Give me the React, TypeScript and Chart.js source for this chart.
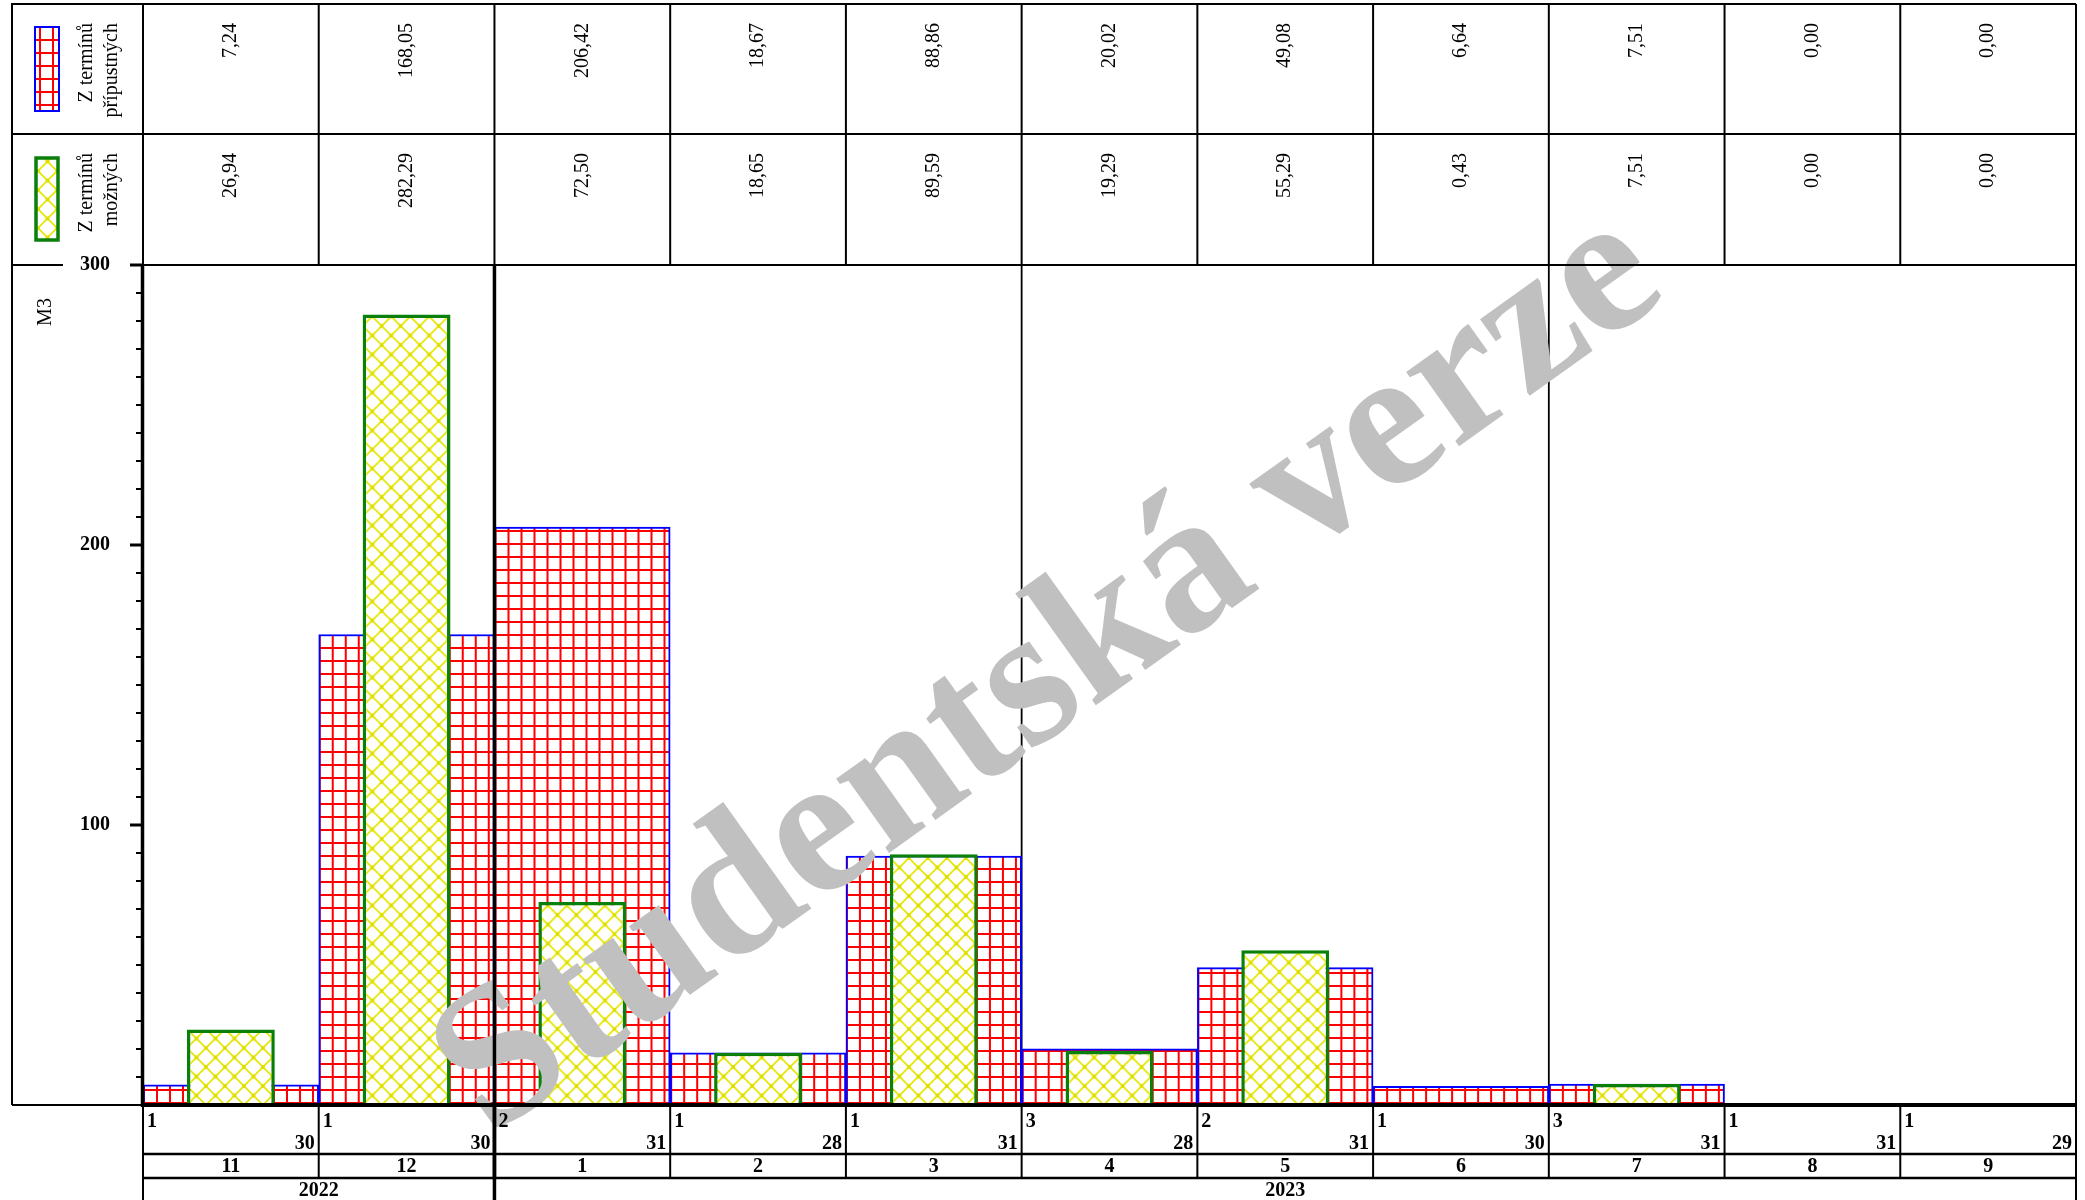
import React, { useEffect, useRef } from 'react';
import { Chart, registerables } from 'chart.js';

Chart.register(...registerables);

// ---------- data ----------
const monthLabels = ['11', '12', '1', '2', '3', '4', '5', '6', '7', '8', '9'];
const firstDays = [1, 1, 2, 1, 1, 3, 2, 1, 3, 1, 1];
const lastDays = [30, 30, 31, 28, 31, 28, 31, 30, 31, 31, 29];
const pripustnych = [7.24, 168.05, 206.42, 18.67, 88.86, 20.02, 49.08, 6.64, 7.51, 0.0, 0.0];
const moznych = [26.94, 282.29, 72.5, 18.65, 89.59, 19.29, 55.29, 0.43, 7.51, 0.0, 0.0];
const yearLabels = ['2022', '2023'];
const yearMonthCounts = [2, 9];
const seriesLabels = [
  ['Z termínů', 'přípustných'],
  ['Z termínů', 'možných'],
];
const yMajorTicks = [100, 200, 300];
const yMinorStep = 10;
const yMax = 300;
const axisTitle = 'M3';
const quarterLineMonths = [5, 8];
const yearBoundaryMonth = 2;
const watermark = 'Studentská verze';

const FONT = '"Liberation Serif", "Times New Roman", Times, serif';

function gridTile(): HTMLCanvasElement {
  const s = 13;
  const c = document.createElement('canvas');
  c.width = s;
  c.height = s;
  const g = c.getContext('2d')!;
  g.fillStyle = '#ffffff';
  g.fillRect(0, 0, s, s);
  g.fillStyle = '#ff0000';
  g.fillRect(0, 0, 2, s);
  g.fillRect(0, 0, s, 2);
  return c;
}

function crossTile(): HTMLCanvasElement {
  const s = 19;
  const c = document.createElement('canvas');
  c.width = s;
  c.height = s;
  const g = c.getContext('2d')!;
  g.fillStyle = '#ffffff';
  g.fillRect(0, 0, s, s);
  g.strokeStyle = '#e6e600';
  g.lineWidth = 1.7;
  g.beginPath();
  g.moveTo(-2, -2);
  g.lineTo(s + 2, s + 2);
  g.moveTo(s + 2, -2);
  g.lineTo(-2, s + 2);
  g.stroke();
  g.fillStyle = '#dede00';
  const pts = [
    [s / 2, s / 2],
    [0, 0],
    [s, 0],
    [0, s],
    [s, s],
  ];
  for (const [px, py] of pts) {
    g.beginPath();
    g.arc(px, py, 2, 0, Math.PI * 2);
    g.fill();
  }
  return c;
}

function fmt(v: number): string {
  return v.toFixed(2).replace('.', ',');
}

function line(c: CanvasRenderingContext2D, x1: number, y1: number, x2: number, y2: number, w: number, color = '#000') {
  c.beginPath();
  c.strokeStyle = color;
  c.lineWidth = w;
  c.moveTo(x1, y1);
  c.lineTo(x2, y2);
  c.stroke();
}

export default function App() {
  const ref = useRef<HTMLCanvasElement | null>(null);

  useEffect(() => {
    const canvas = ref.current;
    if (!canvas) return;
    const gT = gridTile();
    const xT = crossTile();

    const makePattern = (chart: any, tile: HTMLCanvasElement, idx: number | undefined, frac: number, dy: number) => {
      const p = chart.ctx.createPattern(tile, 'repeat') as CanvasPattern;
      const xs = chart.scales?.x;
      const area = chart.chartArea;
      if (idx === undefined || !xs || !area) return p;
      const w = (area.right - area.left) / monthLabels.length;
      const x0 = xs.getPixelForValue(idx) - (w * frac) / 2;
      try {
        p.setTransform(new DOMMatrix([1, 0, 0, 1, x0, area.bottom - dy]));
      } catch (e) {
        /* ignore */
      }
      return p;
    };

    const TABLE_TOP = 4;
    const ROW_SPLIT = 134;
    const BOX_LEFT = 12;
    const DAY_ROW_BOTTOM = 1154;
    const MONTH_ROW_BOTTOM = 1178;
    const H = 1200;
    const TXT = 20;

    const decor = {
      id: 'decor',
      beforeDraw(chart: any) {
        const c = chart.ctx as CanvasRenderingContext2D;
        c.save();
        c.fillStyle = '#ffffff';
        c.fillRect(0, 0, chart.width, chart.height);
        c.restore();
      },
      beforeDatasetsDraw(chart: any) {
        const c = chart.ctx as CanvasRenderingContext2D;
        const { left, right, top, bottom } = chart.chartArea;
        const n = monthLabels.length;
        const colW = (right - left) / n;
        const xs = chart.scales.x;
        c.save();
        for (const m of quarterLineMonths) {
          const x = xs.getPixelForValue(m) - colW / 2;
          line(c, x, top, x, bottom, 1.8);
        }
        c.restore();
      },
      afterDatasetsDraw(chart: any) {
        const c = chart.ctx as CanvasRenderingContext2D;
        const { left, right, top, bottom } = chart.chartArea;
        const xs = chart.scales.x;
        const ys = chart.scales.y;
        const n = monthLabels.length;
        const colW = (right - left) / n;
        const edge = (i: number) => (i >= n ? right : xs.getPixelForValue(i) - colW / 2);
        const center = (i: number) => xs.getPixelForValue(i);

        c.save();
        // ---- watermark ----
        c.save();
        c.font = `bold 100px ${FONT}`;
        const mw = c.measureText(watermark).width;
        const size = (100 * 1450) / mw;
        c.font = `bold ${size}px ${FONT}`;
        c.translate(1050, 675);
        c.rotate((-35.5 * Math.PI) / 180);
        c.fillStyle = '#c0c0c0';
        c.textAlign = 'center';
        c.textBaseline = 'middle';
        c.fillText(watermark, 0, 0);
        c.restore();

        // ---- top table ----
        line(c, BOX_LEFT, TABLE_TOP, right, TABLE_TOP, 2);
        line(c, BOX_LEFT, ROW_SPLIT, right, ROW_SPLIT, 2);
        line(c, left, top, right, top, 2);
        line(c, BOX_LEFT, top, 63, top, 2);
        line(c, BOX_LEFT, TABLE_TOP - 1, BOX_LEFT, bottom, 2);
        for (let i = 0; i <= n; i++) {
          const x = edge(i);
          line(c, x, TABLE_TOP, x, top, 2);
        }
        line(c, right, TABLE_TOP, right, H, 2);

        const rows = [pripustnych, moznych];
        const rowTops = [TABLE_TOP, ROW_SPLIT];
        c.fillStyle = '#000';
        c.font = `${TXT}px ${FONT}`;
        c.textAlign = 'right';
        c.textBaseline = 'middle';
        rows.forEach((vals, r) => {
          vals.forEach((v, i) => {
            c.save();
            c.translate(center(i), rowTops[r] + 19);
            c.rotate(-Math.PI / 2);
            c.fillText(fmt(v), 0, 0);
            c.restore();
          });
        });

        // legend labels
        seriesLabels.forEach((lines, r) => {
          lines.forEach((t, k) => {
            c.save();
            c.translate(k === 0 ? 87 : 112, rowTops[r] + 19);
            c.rotate(-Math.PI / 2);
            c.fillText(t, 0, 0);
            c.restore();
          });
        });
        // legend swatches
        c.save();
        c.fillStyle = c.createPattern(gT, 'repeat') as CanvasPattern;
        c.fillRect(35, 27, 24, 84);
        c.strokeStyle = '#0000ff';
        c.lineWidth = 2;
        c.strokeRect(35, 27, 24, 84);
        c.fillStyle = c.createPattern(xT, 'repeat') as CanvasPattern;
        c.fillRect(36, 158, 22, 82);
        c.strokeStyle = '#0a800a';
        c.lineWidth = 3.5;
        c.strokeRect(36, 158, 22, 82);
        c.restore();

        // axis title
        c.save();
        c.font = `${TXT}px ${FONT}`;
        c.fillStyle = '#000';
        c.translate(46, 312);
        c.rotate(-Math.PI / 2);
        c.textAlign = 'center';
        c.textBaseline = 'middle';
        c.fillText(axisTitle, 0, 0);
        c.restore();

        // ---- y axis ----
        for (let v = 0; v <= yMax; v += yMinorStep) {
          const y = ys.getPixelForValue(v);
          const major = yMajorTicks.includes(v);
          line(c, left - (major ? 13 : 7), y, left, y, major ? 3 : 2);
        }
        c.font = `bold ${TXT}px ${FONT}`;
        c.textAlign = 'right';
        c.textBaseline = 'middle';
        c.fillStyle = '#000';
        for (const v of yMajorTicks) {
          c.fillText(String(v), 110, ys.getPixelForValue(v));
        }
        line(c, left - 0.5, top, left - 0.5, bottom + 2, 3.5);

        // year boundary line
        const yb = edge(yearBoundaryMonth);
        line(c, yb, top, yb, H, 3.5);

        // baseline
        line(c, BOX_LEFT, bottom, left, bottom, 2);
        line(c, left, bottom, right, bottom, 4);

        // ---- bottom table ----
        line(c, left, DAY_ROW_BOTTOM, right, DAY_ROW_BOTTOM, 2.5);
        line(c, left, MONTH_ROW_BOTTOM, right, MONTH_ROW_BOTTOM, 2.5);
        for (let i = 0; i <= n; i++) {
          const x = edge(i);
          line(c, x, bottom, x, MONTH_ROW_BOTTOM, i === yearBoundaryMonth ? 3.5 : 2);
        }
        line(c, left, MONTH_ROW_BOTTOM, left, H, 2);

        c.font = `bold ${TXT}px ${FONT}`;
        c.fillStyle = '#000';
        for (let i = 0; i < n; i++) {
          c.textAlign = 'left';
          c.textBaseline = 'top';
          c.fillText(String(firstDays[i]), edge(i) + 4, bottom + 7);
          c.textAlign = 'right';
          c.textBaseline = 'alphabetic';
          c.fillText(String(lastDays[i]), edge(i + 1) - 4, DAY_ROW_BOTTOM - 5);
          c.textAlign = 'center';
          c.textBaseline = 'middle';
          c.fillText(monthLabels[i], center(i), (DAY_ROW_BOTTOM + MONTH_ROW_BOTTOM) / 2 + 1);
        }
        let start = 0;
        yearLabels.forEach((yl, k) => {
          const x1 = edge(start);
          const x2 = edge(start + yearMonthCounts[k]);
          c.textAlign = 'center';
          c.textBaseline = 'middle';
          c.fillText(yl, (x1 + x2) / 2, 1191);
          start += yearMonthCounts[k];
        });
        c.restore();
      },
    };

    const chart = new Chart(canvas, {
      type: 'bar',
      data: {
        labels: monthLabels,
        datasets: [
          {
            label: 'Z termínů možných',
            data: moznych,
            backgroundColor: (ctx: any) => makePattern(ctx.chart, xT, ctx.dataIndex, 0.5, 0),
            borderColor: '#0a800a',
            borderWidth: 3.5,
            barPercentage: 0.5,
            categoryPercentage: 1,
            grouped: false,
            order: 0,
          },
          {
            label: 'Z termínů přípustných',
            data: pripustnych,
            backgroundColor: (ctx: any) => makePattern(ctx.chart, gT, ctx.dataIndex, 1, 3),
            borderColor: '#0000ff',
            borderWidth: 2,
            barPercentage: 1,
            categoryPercentage: 1,
            grouped: false,
            order: 1,
          },
        ],
      } as any,
      options: {
        responsive: false,
        animation: false,
        devicePixelRatio: 1,
        layout: { padding: { left: 143, right: 9, top: 265, bottom: 95 } },
        scales: {
          x: { display: false, offset: true, grid: { display: false } },
          y: { display: false, min: 0, max: yMax },
        },
        plugins: {
          legend: { display: false },
          tooltip: { enabled: false },
        },
      } as any,
      plugins: [decor as any],
    });

    return () => chart.destroy();
  }, []);

  return (
    <div style={{ position: 'absolute', left: 0, top: 0, width: 2085, height: 1200, background: '#fff' }}>
      <canvas ref={ref} width={2085} height={1200} style={{ display: 'block', width: 2085, height: 1200 }} />
    </div>
  );
}
